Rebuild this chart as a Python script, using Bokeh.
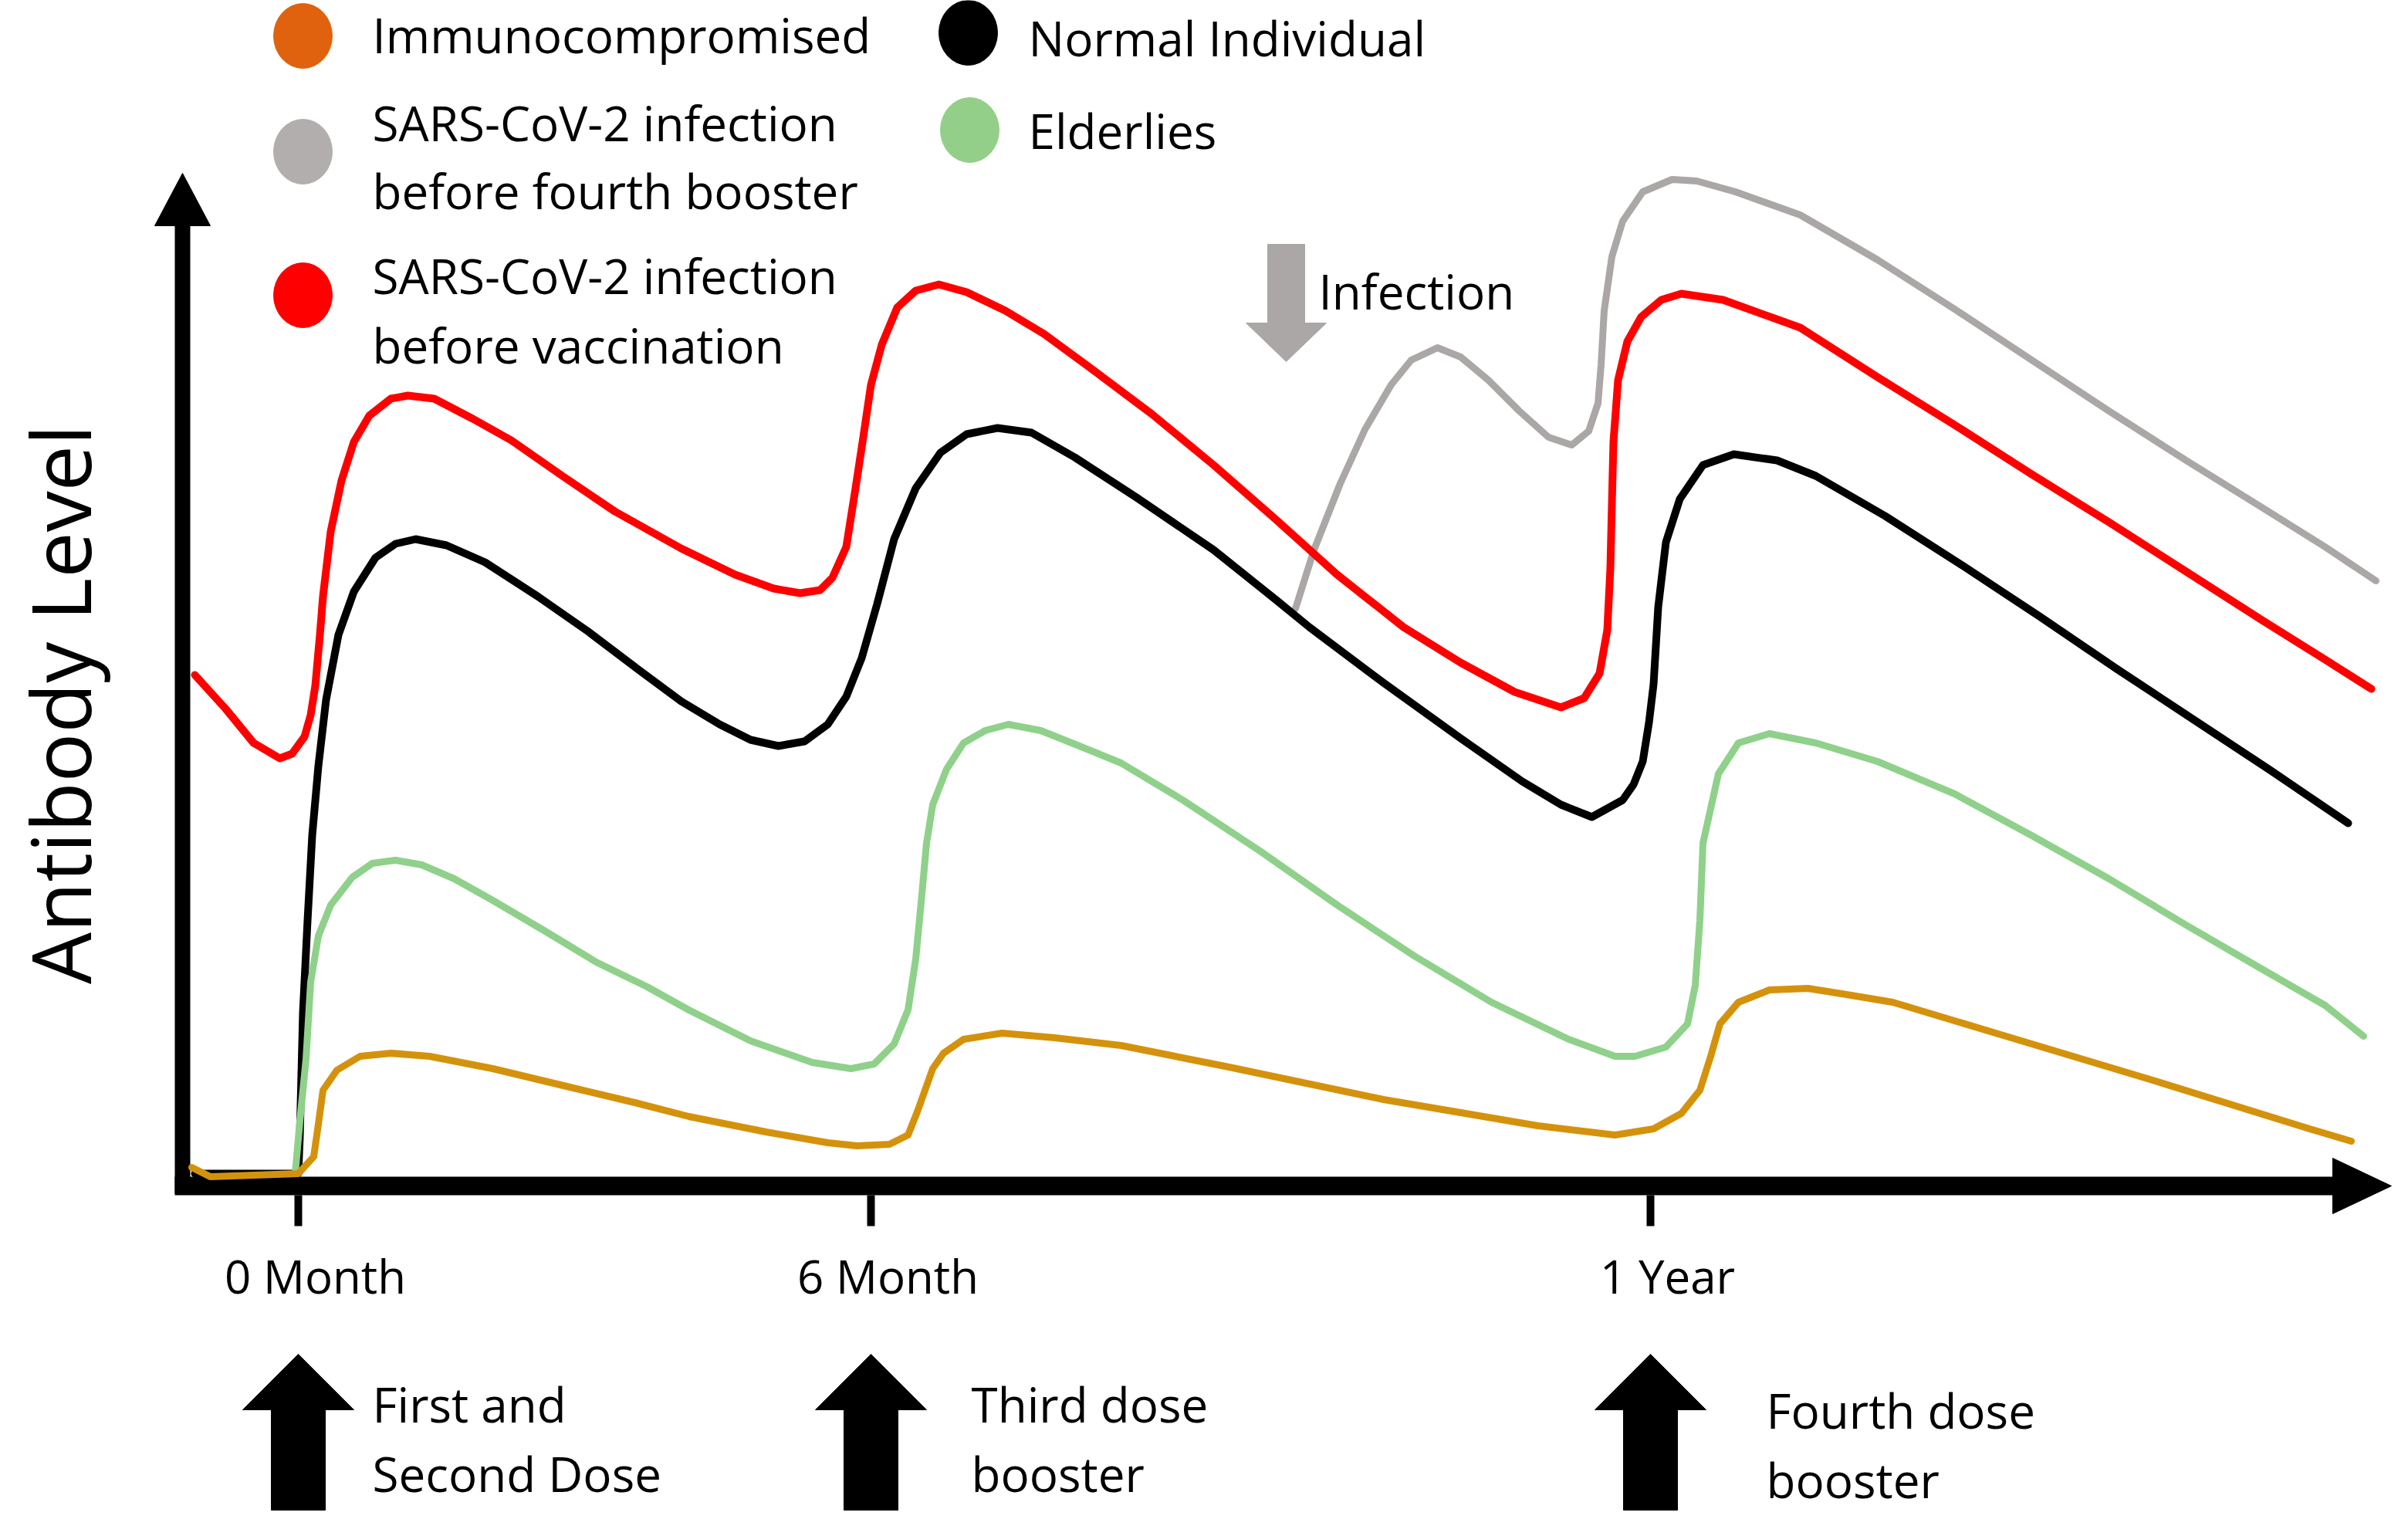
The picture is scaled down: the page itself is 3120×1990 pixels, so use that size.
from bokeh.plotting import figure
from bokeh.models import Range1d
from bokeh.core.properties import value
from bokeh.embed import file_html
from bokeh.resources import INLINE
import math

# ---------------- data (time in arbitrary units, antibody level in arbitrary units) -------------
tick_pos = [0, 371, 876]
tick_labels = ["0 Month", "6 Month", "1 Year"]
dose_labels = [["First and", "Second Dose"], ["Third dose", "booster"], ["Fourth dose", "booster"]]

red_t = [-67, -47, -29, -12, -4, 4, 8, 11, 14, 16, 21, 28, 36, 46, 60, 71, 88, 113, 138, 171, 205,
         248, 283, 308, 325, 338, 346, 355, 361, 366, 371, 378, 388, 400, 415, 433, 458, 483, 513,
         553, 593, 633, 673, 716, 753, 788, 818, 833, 843, 848, 850, 851, 852, 855, 861, 870, 883,
         896, 923, 973, 1023, 1073, 1123, 1173, 1223, 1273, 1313, 1343]
red_l = [331, 309, 287, 277, 280, 291, 305, 324, 357, 382, 424, 457, 482, 499, 510, 512, 510, 497,
         483, 460, 437, 413, 396, 387, 384, 386, 394, 414, 452, 485, 519, 545, 569, 580, 584, 579,
         567, 552, 530, 500, 467, 432, 396, 362, 339, 320, 310, 316, 332, 360, 400, 442, 482, 522,
         547, 563, 574, 578, 574, 556, 524, 493, 461, 430, 398, 366, 341, 322]

black_t = [-67, 0, 1, 3, 6, 9, 13, 18, 26, 36, 50, 63, 76, 96, 121, 155, 188, 221, 248, 273, 293,
           311, 328, 343, 355, 365, 375, 386, 400, 416, 433, 453, 475, 503, 543, 593, 633, 655, 703,
           753, 793, 818, 838, 858, 865, 871, 875, 878, 881, 886, 895, 910, 930, 958, 983, 1028,
           1078, 1128, 1178, 1228, 1278, 1328]
black_l = [8, 8, 32, 112, 172, 227, 272, 315, 357, 385, 407, 416, 419, 415, 404, 382, 359, 334, 314,
           299, 289, 285, 288, 299, 317, 342, 377, 419, 452, 475, 487, 491, 488, 472, 446, 412, 380,
           362, 326, 290, 262, 247, 239, 250, 260, 275, 300, 325, 375, 417, 445, 467, 474, 470, 460,
           434, 402, 369, 335, 302, 269, 235]

gray_t = [646, 658, 675, 691, 708, 721, 738, 753, 771, 791, 810, 825, 836, 842, 844, 846, 851, 858,
          871, 890, 906, 931, 973, 1023, 1073, 1123, 1173, 1223, 1273, 1313, 1346]
gray_l = [374, 412, 455, 490, 519, 535, 543, 537, 522, 502, 485, 480, 489, 507, 532, 567, 602, 625,
          644, 652, 651, 644, 629, 600, 568, 535, 502, 470, 439, 414, 392]

green_t = [-2, 1, 5, 8, 13, 21, 35, 48, 63, 80, 101, 126, 160, 193, 226, 253, 293, 333, 358, 373,
           386, 395, 400, 404, 407, 411, 420, 431, 445, 460, 481, 506, 533, 573, 623, 673, 723, 773,
           823, 853, 866, 886, 900, 905, 908, 910, 920, 933, 953, 983, 1023, 1073, 1123, 1173, 1223,
           1273, 1313, 1338]
green_l = [8, 42, 82, 132, 162, 182, 200, 209, 211, 208, 199, 185, 165, 145, 129, 114, 94, 80, 76,
           79, 92, 114, 147, 189, 222, 247, 270, 287, 295, 299, 295, 285, 274, 250, 217, 182, 149,
           119, 95, 84, 84, 90, 105, 130, 172, 222, 267, 287, 293, 287, 275, 254, 227, 199, 169, 140,
           117, 97]

orange_t = [-69, -57, 0, 10, 13, 16, 25, 40, 60, 85, 126, 176, 218, 253, 303, 343, 362, 383, 395,
            401, 406, 411, 418, 431, 456, 490, 533, 603, 703, 803, 853, 878, 896, 908, 915, 921, 933,
            953, 978, 1003, 1033, 1103, 1203, 1303, 1330]
orange_l = [12, 6, 8, 19, 40, 62, 75, 84, 86, 84, 76, 64, 54, 45, 35, 28, 26, 27, 33, 48, 62, 76, 86,
            95, 99, 96, 91, 77, 56, 39, 33, 37, 47, 62, 84, 105, 119, 127, 128, 124, 119, 98, 68, 37,
            29]

legend_names = ["Immunocompromised", "SARS-CoV-2 infection\nbefore fourth booster",
                "SARS-CoV-2 infection\nbefore vaccination", "Normal Individual", "Elderlies"]

# ---------------- styles ----------------
C_RED = "#FF0000"
C_BLACK = "#000000"
C_GRAY = "#ABA7A6"
C_GREEN = "#8FD18A"
C_GOLD = "#D4920C"
C_ORANGE = "#E0620E"
FONT = value("Open Sans")

p = figure(width=3104, height=1974, x_range=Range1d(-193, 1359), y_range=Range1d(-219, 768),
           output_backend="svg", toolbar_location=None, x_axis_type=None, y_axis_type=None,
           min_border=0, outline_line_color=None)
p.grid.visible = False
p.background_fill_color = "white"

# ---- axes (arrows) ----
yax_x, yax_bot, yax_top = -75, -5, 626
p.line([yax_x, yax_x], [yax_bot, yax_top], line_width=20, color="black")
p.patch([yax_x - 18, yax_x + 18, yax_x], [622, 622, 656], color="black")
xax_y, xax_l, xax_r = 0, -80, 1324
p.line([xax_l, xax_r], [xax_y, xax_y], line_width=24, color="black")
p.patch([1318, 1318, 1356], [-18, 18, 0], color="black")
for tp in tick_pos:
    p.line([tp, tp], [-6, -26], line_width=10, color="black")

# ---- curves ----
opts = dict(line_join="round", line_cap="round")
p.line(gray_t, gray_l, line_width=9, color=C_GRAY, **opts)
p.line(red_t, red_l, line_width=10, color=C_RED, **opts)
p.line(black_t, black_l, line_width=10, color=C_BLACK, **opts)
p.line(green_t, green_l, line_width=9, color=C_GREEN, **opts)
p.line(orange_t, orange_l, line_width=9, color=C_GOLD, **opts)

# ---- tick labels ----
p.text(x=[tp + 11 for tp in tick_pos], y=[-58] * 3, text=tick_labels, text_font=FONT,
       text_font_size=value("60px"), text_align="center", text_baseline="middle", text_color="black")

# ---- y label ----
p.text(x=[-155], y=[312], text=["Antibody Level"], angle=math.pi / 2, text_font=FONT,
       text_font_size=value("106px"), text_align="center", text_baseline="middle", text_color="black")

# ---- dose arrows ----
def up_arrow(cx, tip, base, bottom, hw, sw):
    return ([cx - sw, cx - sw, cx - hw, cx, cx + hw, cx + sw, cx + sw],
            [bottom, base, base, tip, base, base, bottom])

for tp in tick_pos:
    xs, ys = up_arrow(tp, -109, -145, -210, 36, 17.5)
    p.patch(xs, ys, color="black")

dose_x = [48, 436, 951]
dose_y = [[-141, -186], [-141, -186], [-145, -190]]
for dx, lines, ys in zip(dose_x, dose_labels, dose_y):
    p.text(x=[dx, dx], y=ys, text=lines, text_font=FONT, text_font_size=value("62px"),
           text_align="left", text_baseline="middle", text_color="black")

# ---- infection arrow ----
ix = 640
p.patch([ix - 12, ix - 12, ix - 26, ix, ix + 26, ix + 12, ix + 12],
        [610, 559, 559, 534, 559, 559, 610], color=C_GRAY)
p.text(x=[661], y=[580], text=["Infection"], text_font=FONT, text_font_size=value("62px"),
       text_align="left", text_baseline="middle", text_color="black")

# ---- legend ----
dot_x = [3, 3, 3, 434, 435]
dot_y = [745, 670, 577, 747, 684]
dot_c = [C_ORANGE, "#B2AEAD", C_RED, C_BLACK, "#93CF88"]
p.ellipse(x=dot_x, y=dot_y, width=38, height=42, color=dot_c)

leg_x = [48, 48, 48, 48, 48, 473, 473]
leg_y = [746, 689, 645, 590, 545, 744, 684]
leg_txt = [legend_names[0]] + legend_names[1].split("\n") + legend_names[2].split("\n") + \
          [legend_names[3], legend_names[4]]
p.text(x=leg_x, y=leg_y, text=leg_txt, text_font=FONT, text_font_size=value("62px"),
       text_align="left", text_baseline="middle", text_color="black")

open("out.html", "w").write(file_html(p, INLINE))
